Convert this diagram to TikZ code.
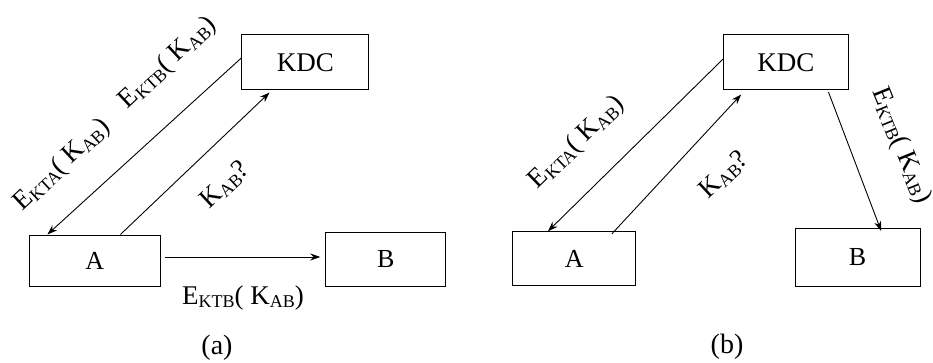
\documentclass[tikz,border=0pt]{standalone}
\usepackage{fontspec}
\setmainfont{Liberation Serif}
\newfontfamily\labelfont{Liberation Serif}
\usetikzlibrary{arrows.meta}
% subscript set a little below the baseline in a smaller size
\newcommand\lowsub[1]{\raisebox{-0.12em}{\fontsize{18}{18}\selectfont #1}}
\newcommand\ek[1]{E\lowsub{#1}( K\lowsub{AB})}

\begin{document}
\begin{tikzpicture}[x=1pt,y=-1pt,
  box/.style={draw,line width=1pt,inner sep=0pt,font=\labelfont\fontsize{26}{26}\selectfont},
  msg/.style={inner sep=0pt,font=\labelfont\fontsize{27}{27}\selectfont},
  subcap/.style={inner sep=0pt,font=\labelfont\fontsize{28}{28}\selectfont},
  link/.style={line width=0.9pt,-{Stealth[length=10pt,width=7pt]}}]
\useasboundingbox (0,0) rectangle (933,363);

% ---------- (a) ----------
\node[box,minimum width=127pt,minimum height=55pt,font=\labelfont\fontsize{27}{27}\selectfont] (kdcA) at (305.3,62.5) {KDC};
\node[box,minimum width=131pt,minimum height=51pt] (aA) at (94.7,260.5) {A};
\node[box,minimum width=120pt,minimum height=54pt] (bA) at (385.8,259) {B};

\draw[link] ([yshift=4.5pt]kdcA.west) -- ([xshift=18.7pt]aA.north west);
\draw[link] ([xshift=91.7pt]aA.north west) -- ([xshift=28.3pt,yshift=-2pt]kdcA.south west);
\draw[link] ([xshift=4pt,yshift=3.5pt]aA.east) -- ([xshift=-5pt,yshift=2pt]bA.west);

\node[msg,rotate=43] (la1) at (168,63) {\ek{KTB}};
\node[msg,rotate=43] (la2) at (62,165) {\ek{KTA}};
\node[msg,rotate=43] (la3) at (225,185) {K\lowsub{AB}?};
\node[msg] (la4) at (243,298) {\ek{KTB}};
\node[subcap] (capA) at (217,348) {(a)};

% ---------- (b) ----------
\node[box,minimum width=125pt,minimum height=55pt,font=\labelfont\fontsize{27}{27}\selectfont] (kdcB) at (785.8,62.5) {KDC};
\node[box,minimum width=123pt,minimum height=54pt] (aB) at (574.3,258.8) {A};
\node[box,minimum width=125pt,minimum height=58pt] (bB) at (857.5,257.2) {B};

\draw[link] ([yshift=3.2pt]kdcB.west) -- ([xshift=35.6pt]aB.north west);
\draw[link] ([xshift=99.6pt,yshift=-2.5pt]aB.north west) -- ([xshift=18.4pt,yshift=-4pt]kdcB.south west);
\draw[link] ([xshift=105.7pt,yshift=-1.7pt]kdcB.south west) -- ([xshift=86.7pt,yshift=-3.4pt]bB.north west);

\node[msg,rotate=44] (lb1) at (577,143) {\ek{KTA}};
\node[msg,rotate=43] (lb2) at (724,175) {K\lowsub{AB}?};
\node[msg,rotate=-68] (lb3) at (901,146) {\ek{KTB}};
\node[subcap] (capB) at (727,347) {(b)};
\end{tikzpicture}
\end{document}
